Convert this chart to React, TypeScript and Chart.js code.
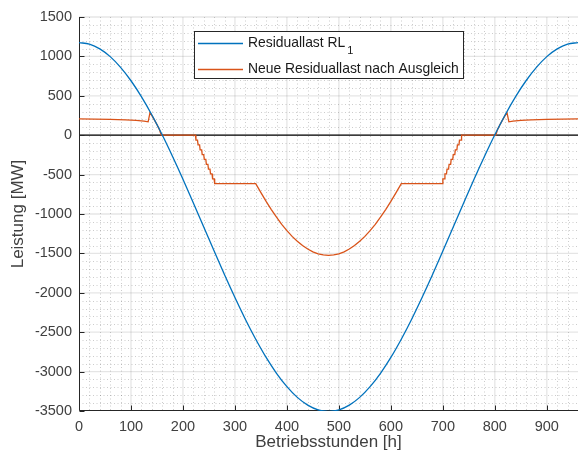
import React, { useEffect, useRef } from 'react';
import { Chart, registerables } from 'chart.js';

Chart.register(...registerables);

// ---- data ----
const blueHours = [0, 20, 40, 60, 80, 100, 120, 140, 160, 180, 200, 220, 240, 260, 280, 300, 320, 340, 360, 380, 400, 420, 440, 460, 480, 500, 520, 540, 560, 580, 600, 620, 640, 660, 680, 700, 720, 740, 760, 780, 800, 820, 840, 860, 880, 900, 920, 940, 960];
const blueValues = [1175, 1155, 1095, 997, 861, 691, 490, 260, 5, -270, -559, -860, -1165, -1470, -1771, -2060, -2335, -2589, -2820, -3021, -3191, -3327, -3425, -3485, -3505, -3485, -3425, -3327, -3191, -3021, -2820, -2589, -2335, -2060, -1771, -1470, -1165, -860, -559, -270, 5, 260, 490, 691, 861, 997, 1095, 1155, 1175];

const orangeHours = [0, 30, 60, 90, 110, 125, 133, 136.5, 140, 145, 150, 155, 158, 224, 225, 228, 229, 232, 233, 236, 237, 240, 241, 244, 245, 248, 249, 252, 253, 256, 257, 260, 261, 340, 350, 360, 370, 380, 390, 400, 410, 420, 430, 440, 450, 460, 470, 480, 490, 500, 510, 520, 530, 540, 550, 560, 570, 580, 590, 600, 610, 620, 699, 700, 703, 704, 707, 708, 711, 712, 715, 716, 719, 720, 723, 724, 727, 728, 731, 732, 735, 736, 802, 805, 810, 815, 820, 823.5, 827, 835, 850, 870, 900, 930, 960];
const orangeValues = [206, 204, 200, 194, 187, 179, 170, 283, 252, 195, 135, 68, 0, 0, -62, -62, -123, -123, -185, -185, -246, -246, -308, -308, -369, -369, -431, -431, -492, -492, -554, -554, -615, -615, -728, -840, -944, -1041, -1131, -1211, -1284, -1347, -1401, -1445, -1480, -1505, -1520, -1525, -1520, -1505, -1480, -1445, -1401, -1347, -1284, -1211, -1131, -1041, -944, -840, -728, -615, -615, -554, -554, -492, -492, -431, -431, -369, -369, -308, -308, -246, -246, -185, -185, -123, -123, -62, -62, 0, 0, 68, 135, 195, 252, 283, 170, 179, 187, 194, 200, 204, 206];

const xTicks = [0, 100, 200, 300, 400, 500, 600, 700, 800, 900];
const yTicks = [-3500, -3000, -2500, -2000, -1500, -1000, -500, 0, 500, 1000, 1500];

const seriesNames = ['Residuallast RL', 'Neue Residuallast nach Ausgleich'];
const subscript = '1';
const xTitle = 'Betriebsstunden [h]';
const yTitle = 'Leistung [MW]';

const BLUE = '#0072BD';
const ORANGE = '#D95319';
const FONT = '"Liberation Sans", Arial, Helvetica, sans-serif';

const gridPlugin = {
  id: 'matlabGrid',
  beforeDatasetsDraw(chart: any) {
    const { ctx, chartArea: a, scales } = chart;
    const x = scales.x;
    const y = scales.y;
    ctx.save();
    const hline = (py: number, x0: number, x1: number) => {
      ctx.beginPath();
      ctx.moveTo(x0, py);
      ctx.lineTo(x1, py);
      ctx.stroke();
    };
    const vline = (px: number, y0: number, y1: number) => {
      ctx.beginPath();
      ctx.moveTo(px, y0);
      ctx.lineTo(px, y1);
      ctx.stroke();
    };
    // minor grid
    ctx.strokeStyle = 'rgba(0,0,0,0.2)';
    ctx.lineWidth = 1;
    ctx.setLineDash([1, 2.5]);
    for (let v = 20; v < 960; v += 20) {
      if (v % 100 === 0) continue;
      const px = Math.round(x.getPixelForValue(v)) + 0.5;
      vline(px, a.top, a.bottom);
    }
    for (let v = -3400; v < 1500; v += 100) {
      if (v % 500 === 0) continue;
      const py = Math.round(y.getPixelForValue(v)) + 0.5;
      hline(py, a.left, a.right);
    }
    // major grid
    ctx.setLineDash([]);
    ctx.strokeStyle = 'rgba(0,0,0,0.1)';
    ctx.lineWidth = 1.3;
    for (const v of xTicks) {
      if (v === 0) continue;
      vline(x.getPixelForValue(v), a.top, a.bottom);
    }
    for (const v of yTicks) {
      if (v === -3500) continue;
      hline(y.getPixelForValue(v), a.left, a.right);
    }
    // zero line
    ctx.strokeStyle = '#000000';
    ctx.lineWidth = 1.3;
    hline(y.getPixelForValue(0), a.left, a.right);
    // axes
    ctx.strokeStyle = '#262626';
    ctx.lineWidth = 1;
    const bx = Math.round(a.left) + 0.5;
    const by = Math.round(a.bottom) - 0.5;
    vline(bx, a.top, by);
    hline(by, bx, a.right);
    // tick marks
    for (const v of xTicks) {
      const px = Math.round(x.getPixelForValue(v)) + 0.5;
      vline(px, by, by - 5);
    }
    for (const v of yTicks) {
      const py = Math.round(y.getPixelForValue(v)) + 0.5;
      hline(py, bx, bx + 5);
    }
    ctx.restore();
  },
};

const legendPlugin = {
  id: 'matlabLegend',
  afterDatasetsDraw(chart: any) {
    const { ctx } = chart;
    ctx.save();
    const bx = 194.5, by = 31.5, bw = 269, bh = 47;
    ctx.fillStyle = '#ffffff';
    ctx.fillRect(bx, by, bw, bh);
    ctx.strokeStyle = '#262626';
    ctx.lineWidth = 1;
    ctx.strokeRect(bx, by, bw, bh);
    const rows = [43.5, 69.5];
    const colors = [BLUE, ORANGE];
    ctx.textBaseline = 'middle';
    ctx.textAlign = 'left';
    rows.forEach((ry, i) => {
      ctx.strokeStyle = colors[i];
      ctx.lineWidth = 1.3;
      ctx.beginPath();
      ctx.moveTo(198, ry);
      ctx.lineTo(243, ry);
      ctx.stroke();
      ctx.fillStyle = '#1a1a1a';
      ctx.font = `13.9px ${FONT}`;
      ctx.fillText(seriesNames[i], 248, ry);
      if (i === 0) {
        const w = ctx.measureText(seriesNames[i]).width;
        ctx.font = `11px ${FONT}`;
        ctx.fillText(subscript, 248 + w + 2, ry + 7);
      }
    });
    ctx.restore();
  },
};

export default function App() {
  const ref = useRef<HTMLCanvasElement | null>(null);
  useEffect(() => {
    if (!ref.current) return;
    const chart = new Chart(ref.current, {
      type: 'line',
      data: {
        datasets: [
          {
            label: seriesNames[0],
            data: blueHours.map((h, i) => ({ x: h, y: blueValues[i] })),
            borderColor: BLUE,
            borderWidth: 1.3,
            pointRadius: 0,
            cubicInterpolationMode: 'monotone',
            fill: false,
          },
          {
            label: seriesNames[1],
            data: orangeHours.map((h, i) => ({ x: h, y: orangeValues[i] })),
            borderColor: ORANGE,
            borderWidth: 1.3,
            pointRadius: 0,
            tension: 0,
            fill: false,
          },
        ],
      },
      options: {
        animation: false,
        responsive: false,
        devicePixelRatio: 1,
        layout: { padding: { top: 17, right: 0, bottom: 0, left: 0 } },
        plugins: { legend: { display: false }, tooltip: { enabled: false } },
        scales: {
          x: {
            type: 'linear',
            min: 0,
            max: 960,
            grid: { display: false, drawTicks: false },
            border: { display: false },
            afterBuildTicks: (s: any) => {
              s.ticks = xTicks.map((v) => ({ value: v }));
            },
            afterFit: (s: any) => {
              s.height = 46;
            },
            ticks: {
              padding: 7,
              color: '#404040',
              font: { family: FONT, size: 14.5 },
              maxRotation: 0,
              autoSkip: false,
              callback: (v: any) => String(v),
            },
            title: {
              display: true,
              text: xTitle,
              color: '#404040',
              font: { family: FONT, size: 17 },
              padding: { top: 0, bottom: 4 },
            },
          },
          y: {
            type: 'linear',
            min: -3500,
            max: 1500,
            grid: { display: false, drawTicks: false },
            border: { display: false },
            afterBuildTicks: (s: any) => {
              s.ticks = yTicks.map((v) => ({ value: v }));
            },
            afterFit: (s: any) => {
              s.width = 79;
            },
            ticks: {
              padding: 7,
              color: '#404040',
              font: { family: FONT, size: 14.5 },
              autoSkip: false,
              callback: (v: any) => String(v),
            },
            title: {
              display: true,
              text: yTitle,
              color: '#404040',
              font: { family: FONT, size: 17 },
              padding: { top: 8, bottom: 0 },
            },
          },
        },
      },
      plugins: [gridPlugin, legendPlugin],
    } as any);
    return () => chart.destroy();
  }, []);
  return (
    <canvas
      ref={ref}
      width={578}
      height={457}
      style={{ position: 'absolute', left: 0, top: 0, width: 578, height: 457 }}
    />
  );
}
